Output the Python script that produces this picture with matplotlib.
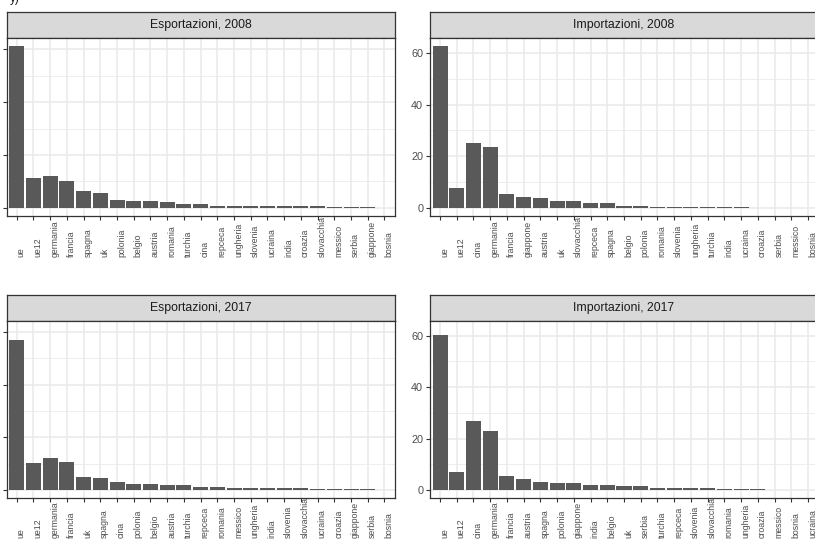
import matplotlib
matplotlib.use("Agg")
import matplotlib.pyplot as plt
from matplotlib.ticker import MultipleLocator, FixedLocator

# Trade shares by partner (percent), sorted by value within each panel
exp_2008_partners = ["ue", "ue12", "germania", "francia", "spagna", "uk", "polonia", "belgio",
                     "austria", "romania", "turchia", "cina", "repceca", "ungheria", "slovenia",
                     "ucraina", "india", "croazia", "slovacchia", "messico", "serbia",
                     "giappone", "bosnia"]
exp_2008_values = [61.2, 11.2, 11.9, 10.2, 6.5, 5.8, 3.1, 2.6, 2.5, 2.1, 1.5, 1.5, 0.9, 0.9,
                   0.9, 0.9, 0.9, 0.9, 0.9, 0.25, 0.25, 0.25, 0.0]

imp_2008_partners = ["ue", "ue12", "cina", "germania", "francia", "giappone", "austria", "uk",
                     "slovacchia", "repceca", "spagna", "belgio", "polonia", "romania",
                     "slovenia", "ungheria", "turchia", "india", "ucraina", "croazia",
                     "serbia", "messico", "bosnia"]
imp_2008_values = [62.6, 7.6, 25.2, 23.5, 5.4, 4.4, 3.9, 2.7, 2.7, 2.0, 2.0, 0.9, 0.9, 0.25,
                   0.25, 0.25, 0.25, 0.25, 0.25, 0.0, 0.0, 0.0, 0.0]

exp_2017_partners = ["ue", "ue12", "germania", "francia", "uk", "spagna", "cina", "polonia",
                     "belgio", "austria", "turchia", "repceca", "romania", "messico",
                     "ungheria", "india", "slovenia", "slovacchia", "ucraina", "croazia",
                     "giappone", "serbia", "bosnia"]
exp_2017_values = [57.1, 10.1, 12.1, 10.6, 5.1, 4.5, 2.9, 2.4, 2.4, 1.8, 1.8, 1.3, 1.3, 0.6,
                   0.6, 0.6, 0.6, 0.6, 0.25, 0.25, 0.25, 0.25, 0.0]

imp_2017_partners = ["ue", "ue12", "cina", "germania", "francia", "austria", "spagna",
                     "polonia", "giappone", "india", "belgio", "uk", "serbia", "turchia",
                     "repceca", "slovenia", "slovacchia", "romania", "ungheria", "croazia",
                     "messico", "bosnia", "ucraina"]
imp_2017_values = [60.3, 7.0, 26.8, 22.9, 5.4, 4.3, 3.2, 2.6, 2.6, 2.1, 2.1, 1.6, 1.6, 0.9,
                   0.9, 0.9, 0.9, 0.4, 0.4, 0.4, 0.0, 0.0, 0.0]

panel_titles = ["Esportazioni, 2008", "Importazioni, 2008",
                "Esportazioni, 2017", "Importazioni, 2017"]
y_ticks = [0, 20, 40, 60]

W, H = 815, 558
fig = plt.figure(figsize=(W / 100, H / 100), dpi=100)
fig.patch.set_facecolor("white")

FONT = "Liberation Sans"
BAR = "#595959"
GRID = "#EAEAEA"
EDGE = "#333333"
TXT = "#4D4D4D"


def px_axes(x0, y0, x1, y1):
    """Axes from pixel box (top-left origin)."""
    return fig.add_axes([x0 / W, (H - y1) / H, (x1 - x0) / W, (y1 - y0) / H])


def strip(x0, y0, x1, y1, title):
    s = px_axes(x0, y0, x1, y1)
    s.set_facecolor("#D9D9D9")
    s.set_xticks([])
    s.set_yticks([])
    for sp in s.spines.values():
        sp.set_color(EDGE)
        sp.set_linewidth(0.9)
    s.text(0.5, 0.5, title, ha="center", va="center", fontsize=8.8,
           family=FONT, color="#1A1A1A", transform=s.transAxes)


def panel(x0, y0, x1, y1, partners, values, ymax, title, label_drop, show_y):
    strip(x0, y0 - 26, x1, y0, title)
    ax = px_axes(x0, y0, x1, y1)
    pos = list(range(1, len(partners) + 1))
    ax.bar(pos, values, width=0.9, color=BAR, zorder=3)
    ax.set_xlim(0.4, len(partners) + 0.6)
    ax.set_ylim(-0.05 * ymax, 1.05 * ymax)
    ax.yaxis.set_major_locator(FixedLocator(y_ticks))
    ax.yaxis.set_minor_locator(MultipleLocator(10))
    ax.set_xticks(pos)
    ax.set_xticklabels(partners, rotation=90, ha="left", va="bottom",
                       fontsize=6.3, family=FONT, color=TXT)
    if show_y:
        ax.set_yticklabels([str(t) for t in y_ticks], fontsize=7.8, family=FONT, color=TXT)
    else:
        ax.set_yticklabels([])
    ax.grid(which="major", color=GRID, linewidth=1.1, zorder=0)
    ax.grid(which="minor", axis="y", color=GRID, linewidth=0.55, zorder=0)
    ax.set_axisbelow(True)
    ax.tick_params(which="major", length=2.9, width=0.8, color=EDGE)
    ax.tick_params(which="minor", length=0)
    ax.tick_params(axis="x", pad=label_drop)
    ax.tick_params(axis="y", pad=2)
    for sp in ax.spines.values():
        sp.set_color(EDGE)
        sp.set_linewidth(0.9)
    return ax


left_max = max(exp_2008_values + exp_2017_values)
right_max = max(imp_2008_values + imp_2017_values)

panel(6.7, 38, 394.5, 216, exp_2008_partners, exp_2008_values, left_max,
      panel_titles[0], 26.5, False)
panel(430, 38, 818, 216, imp_2008_partners, imp_2008_values, right_max,
      panel_titles[1], 26.5, True)
panel(6.7, 321, 394.5, 498, exp_2017_partners, exp_2017_values, left_max,
      panel_titles[2], 26.0, False)
panel(430, 321, 818, 498, imp_2017_partners, imp_2017_values, right_max,
      panel_titles[3], 26.0, True)

fig.text(10 / W, 1 - 5 / H, "y)", fontsize=8.4, family=FONT, color="#1A1A1A",
         ha="left", va="bottom")

fig.savefig("out.png", dpi=100)
